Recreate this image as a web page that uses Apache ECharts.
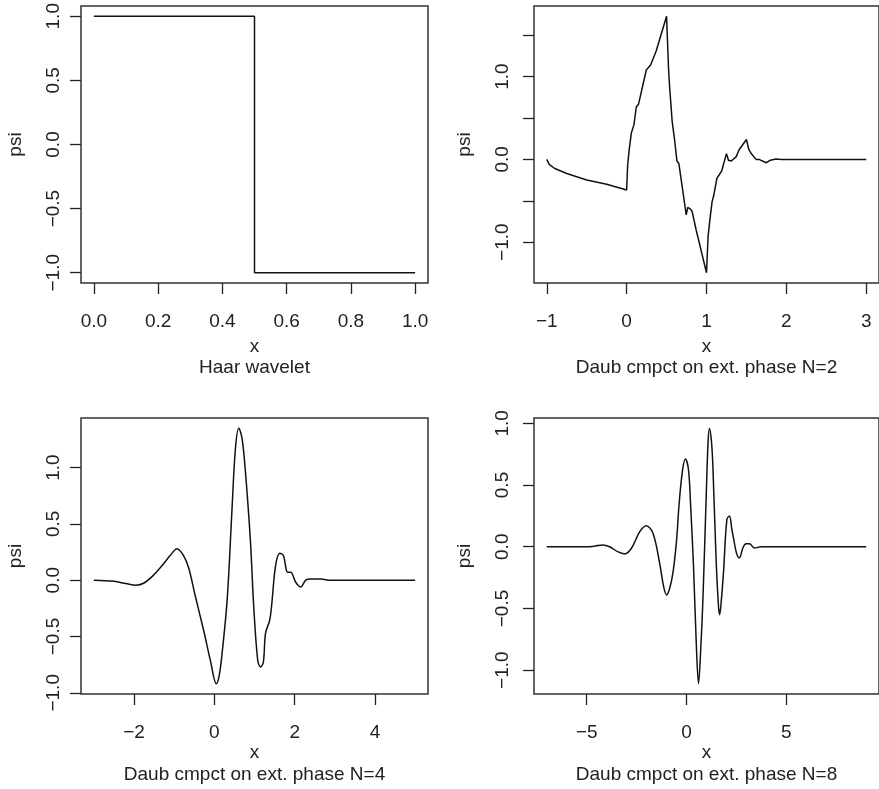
<!DOCTYPE html>
<html>
<head>
<meta charset="utf-8">
<script src="https://cdn.jsdelivr.net/npm/echarts@6/dist/echarts.min.js"></script>
<style>
html,body{margin:0;padding:0;background:#fff;}
#chart{width:879px;height:789px;}
</style>
</head>
<body>
<div id="chart"></div>
<script>
// ---- Data ----
const titles = ['Haar wavelet', 'Daub cmpct on ext. phase N=2', 'Daub cmpct on ext. phase N=4', 'Daub cmpct on ext. phase N=8'];

const haarX = [0, 0.5, 0.5, 1];
const haarY = [1, 1, -1, -1];

const d2X = [-1, -0.97, -0.9, -0.75, -0.5, -0.25, 0, 0.012, 0.03, 0.058, 0.092, 0.12, 0.15, 0.246, 0.27, 0.30, 0.37, 0.5, 0.525, 0.54, 0.57, 0.60, 0.63, 0.654, 0.70, 0.746, 0.765, 0.80, 0.82, 0.87, 1.0, 1.02, 1.04, 1.07, 1.09, 1.13, 1.15, 1.19, 1.25, 1.275, 1.31, 1.37, 1.41, 1.5, 1.53, 1.56, 1.62, 1.66, 1.70, 1.75, 1.80, 1.87, 1.94, 3];
const d2Y = [0, -0.06, -0.11, -0.17, -0.25, -0.30, -0.37, -0.08, 0.10, 0.315, 0.42, 0.63, 0.67, 1.08, 1.09, 1.14, 1.31, 1.73, 1.09, 0.85, 0.46, 0.24, -0.02, -0.05, -0.36, -0.67, -0.58, -0.60, -0.63, -0.85, -1.37, -0.93, -0.75, -0.51, -0.44, -0.23, -0.25, -0.14, 0.07, -0.01, -0.02, 0.03, 0.12, 0.24, 0.12, 0.07, 0.0, 0.0, -0.02, -0.04, -0.01, 0.005, 0, 0];

const d4X = [-3, -2.5, -2.2, -1.95, -1.75, -1.5, -1.3, -1.1, -0.93, -0.77, -0.64, -0.475, -0.27, -0.1, 0.05, 0.12, 0.19, 0.32, 0.44, 0.525, 0.61, 0.69, 0.775, 0.9, 0.98, 1.08, 1.15, 1.22, 1.275, 1.375, 1.425, 1.525, 1.63, 1.72, 1.8, 1.85, 1.9, 2.03, 2.15, 2.275, 2.4, 2.65, 2.9, 5];
const d4Y = [0, -0.01, -0.03, -0.045, -0.025, 0.05, 0.13, 0.22, 0.28, 0.22, 0.11, -0.14, -0.44, -0.71, -0.92, -0.85, -0.66, -0.17, 0.63, 1.17, 1.35, 1.26, 0.96, 0.34, -0.23, -0.71, -0.77, -0.73, -0.47, -0.36, -0.23, 0.13, 0.24, 0.22, 0.08, 0.07, 0.07, -0.02, -0.06, 0.0, 0.01, 0.01, 0, 0];

const d8X = [-7, -5, -4.6, -4.2, -3.85, -3.45, -3.1, -2.75, -2.35, -2.02, -1.68, -1.35, -1.15, -1.0, -0.85, -0.68, -0.5, -0.38, -0.2, -0.05, 0.1, 0.2, 0.35, 0.48, 0.6, 0.72, 0.82, 0.98, 1.08, 1.15, 1.25, 1.32, 1.48, 1.6, 1.66, 1.75, 1.85, 2.02, 2.15, 2.27, 2.37, 2.5, 2.65, 2.82, 2.98, 3.15, 3.4, 3.75, 9];
const d8Y = [0, 0, 0.005, 0.015, 0.0, -0.04, -0.058, -0.01, 0.12, 0.17, 0.11, -0.13, -0.32, -0.39, -0.34, -0.21, 0.05, 0.33, 0.62, 0.71, 0.62, 0.35, -0.16, -0.75, -1.11, -0.8, -0.43, 0.38, 0.85, 0.96, 0.85, 0.65, -0.10, -0.48, -0.55, -0.42, -0.21, 0.22, 0.25, 0.14, 0.056, -0.05, -0.09, -0.01, 0.024, 0.024, -0.01, 0.0, 0];

// tick values per panel
const xTicks = [[0, 0.2, 0.4, 0.6, 0.8, 1.0], [-1, 0, 1, 2, 3], [-2, 0, 2, 4], [-5, 0, 5]];
const yTicks = [[-1, -0.5, 0, 0.5, 1], [-1, -0.5, 0, 0.5, 1, 1.5], [-1, -0.5, 0, 0.5, 1], [-1, -0.5, 0, 0.5, 1]];
const yLabels = [[-1, -0.5, 0, 0.5, 1], [-1, 0, 1], [-1, -0.5, 0, 0.5, 1], [-1, -0.5, 0, 0.5, 1]];
const xDecimals = [1, 0, 0, 0];

// ---- Layout ----
const seriesX = [haarX, d2X, d4X, d8X];
const seriesY = [haarY, d2Y, d4Y, d8Y];
const grids = [
  {left: 81, top: 6, width: 347, height: 277},
  {left: 534, top: 6, width: 346, height: 277},
  {left: 81, top: 418, width: 347, height: 276},
  {left: 534, top: 418, width: 346, height: 276}
];
const xNameGap = [54, 54, 49, 49];
const yLabelMargin = [18, 22, 18, 22];
const titleY = [368, 368, 775, 775];
const FONT = 'Liberation Sans, Arial, Helvetica, sans-serif';
const TXT = '#222';
const LINE = '#111';

function fmt(v, d) {
  const s = Math.abs(v).toFixed(d);
  return (v < 0 ? '\u2212' : '') + s;
}
function ext(arr) {
  const mn = Math.min(...arr), mx = Math.max(...arr);
  const r = mx - mn;
  return [mn - 0.04 * r, mx + 0.04 * r];
}

const option = {
  backgroundColor: '#fff',
  animation: false,
  grid: grids.map(g => Object.assign({show: true, borderColor: '#333', borderWidth: 1.5, backgroundColor: 'transparent', containLabel: false}, g)),
  xAxis: grids.map((g, i) => {
    const [mn, mx] = ext(seriesX[i]);
    return {
      type: 'value', gridIndex: i, min: mn, max: mx, position: 'bottom',
      name: 'x', nameLocation: 'middle', nameGap: xNameGap[i],
      nameTextStyle: {color: TXT, fontSize: 19, fontFamily: FONT},
      axisLine: {show: false, onZero: false},
      splitLine: {show: false},
      axisTick: {show: true, inside: false, length: 11, customValues: xTicks[i], lineStyle: {color: '#222', width: 1.3}},
      axisLabel: {show: true, customValues: xTicks[i], margin: 29, color: TXT, fontSize: 19, fontFamily: FONT,
        formatter: (v) => fmt(v, xDecimals[i])}
    };
  }),
  yAxis: grids.map((g, i) => {
    const [mn, mx] = ext(seriesY[i]);
    return {
      type: 'value', gridIndex: i, min: mn, max: mx, position: 'left',
      name: 'psi', nameLocation: 'middle', nameGap: (i % 2 === 0 ? 56 : 60), nameRotate: 90,
      nameTextStyle: {color: TXT, fontSize: 19, fontFamily: FONT},
      axisLine: {show: false, onZero: false},
      splitLine: {show: false},
      axisTick: {show: true, inside: false, length: 11, customValues: yTicks[i], lineStyle: {color: '#222', width: 1.3}},
      axisLabel: {show: true, customValues: yLabels[i], rotate: 90, margin: yLabelMargin[i], color: TXT, fontSize: 19, fontFamily: FONT,
        formatter: (v) => fmt(v, 1)}
    };
  }),
  graphic: grids.map((g, i) => ({
    type: 'text',
    x: g.left + g.width / 2 - (i % 2 === 1 ? 0.5 : 0),
    y: titleY[i],
    style: {text: titles[i], fill: TXT, font: '19px ' + FONT, textAlign: 'center', textVerticalAlign: 'middle'}
  })),
  series: grids.map((g, i) => ({
    type: 'line', xAxisIndex: i, yAxisIndex: i,
    showSymbol: false, symbol: 'none',
    smooth: (i >= 2 ? 0.35 : false),
    lineStyle: {color: LINE, width: 1.5},
    data: seriesX[i].map((x, k) => [x, seriesY[i][k]])
  }))
};

const chart = echarts.init(document.getElementById('chart'), null, {renderer: 'canvas'});
chart.setOption(option);
</script>
</body>
</html>
